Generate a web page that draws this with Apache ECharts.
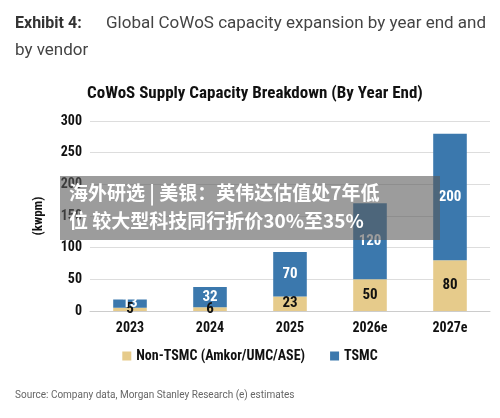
<!DOCTYPE html>
<html><head><meta charset="utf-8">
<script src="https://cdn.jsdelivr.net/npm/echarts@6/dist/echarts.min.js"></script>
<style>html,body{margin:0;padding:0;background:#fff}#c{width:500px;height:418px}</style>
</head><body><div id="c"></div>
<script>
const categories = ['2023','2024','2025','2026e','2027e'];
const nonTsmc = [5,6,23,50,80];
const tsmc = [13,32,70,120,200];
const yTicks = [0,50,100,150,200,250,300];
const chart = echarts.init(document.getElementById('c'));
const cond = '"Liberation Sans Narrow","Roboto Condensed",Roboto,sans-serif';
chart.setOption({
  animation:false,
  graphic:[
    {type:'text',left:15,top:16,style:{text:'Exhibit 4:',font:'bold 16px Roboto, sans-serif',fill:'#333'}},
    {type:'text',left:106,top:15,style:{text:'Global CoWoS capacity expansion by year end and',font:'17px Roboto, sans-serif',fill:'#444'}},
    {type:'text',left:15,top:42,style:{text:'by vendor',font:'17px Roboto, sans-serif',fill:'#444'}},
    {type:'text',left:87,top:85,style:{text:'CoWoS Supply Capacity Breakdown (By Year End)',font:'bold 17px '+cond,fill:'#111'}},
    {type:'text',left:15,top:390,style:{text:'Source: Company data, Morgan Stanley Research (e) estimates',font:'10px Roboto, sans-serif',fill:'#666'}},
    {type:'rect',z:100,shape:{x:60,y:176,width:380,height:64},style:{fill:'rgba(90,90,90,0.6)'}},
    {type:'text',z:101,left:69,top:179,style:{text:'海外研选 | 美银：英伟达估值处7年低\n位 较大型科技同行折价30%至35%',font:'bold 19px "Noto Sans CJK SC", sans-serif',fill:'#fff',lineHeight:28}}
  ],
  legend:{bottom:50,left:'center',itemWidth:9,itemHeight:9,itemGap:25,icon:'rect',
    textStyle:{fontWeight:'bold',fontSize:14,fontFamily:cond,color:'#111'},
    data:['Non-TSMC (Amkor/UMC/ASE)','TSMC']},
  grid:{left:90,right:10,top:121,bottom:107},
  xAxis:{type:'category',data:categories,axisTick:{show:false},axisLine:{lineStyle:{color:'#ccc'}},
    axisLabel:{fontFamily:cond,fontWeight:'bold',fontSize:14,color:'#111',margin:10}},
  yAxis:{type:'value',min:0,max:300,interval:50,name:'(kwpm)',nameLocation:'middle',nameGap:45,
    nameTextStyle:{fontFamily:cond,fontWeight:'bold',fontSize:13,color:'#111'},
    axisLabel:{fontFamily:cond,fontWeight:'bold',fontSize:14,color:'#111',formatter:v=>yTicks.includes(v)?v:''},
    splitLine:{lineStyle:{color:'#ddd'}}},
  series:[
    {name:'Non-TSMC (Amkor/UMC/ASE)',type:'bar',stack:'a',data:nonTsmc,barWidth:'42%',itemStyle:{color:'#e6cb8b'},
     label:{show:true,position:'inside',color:'#111',fontFamily:cond,fontWeight:'bold',fontSize:15}},
    {name:'TSMC',type:'bar',stack:'a',data:tsmc,barWidth:'42%',itemStyle:{color:'#3b78ad'},
     label:{show:true,position:'inside',color:'#fff',fontFamily:cond,fontWeight:'bold',fontSize:15}}
  ]
});
</script></body></html>
